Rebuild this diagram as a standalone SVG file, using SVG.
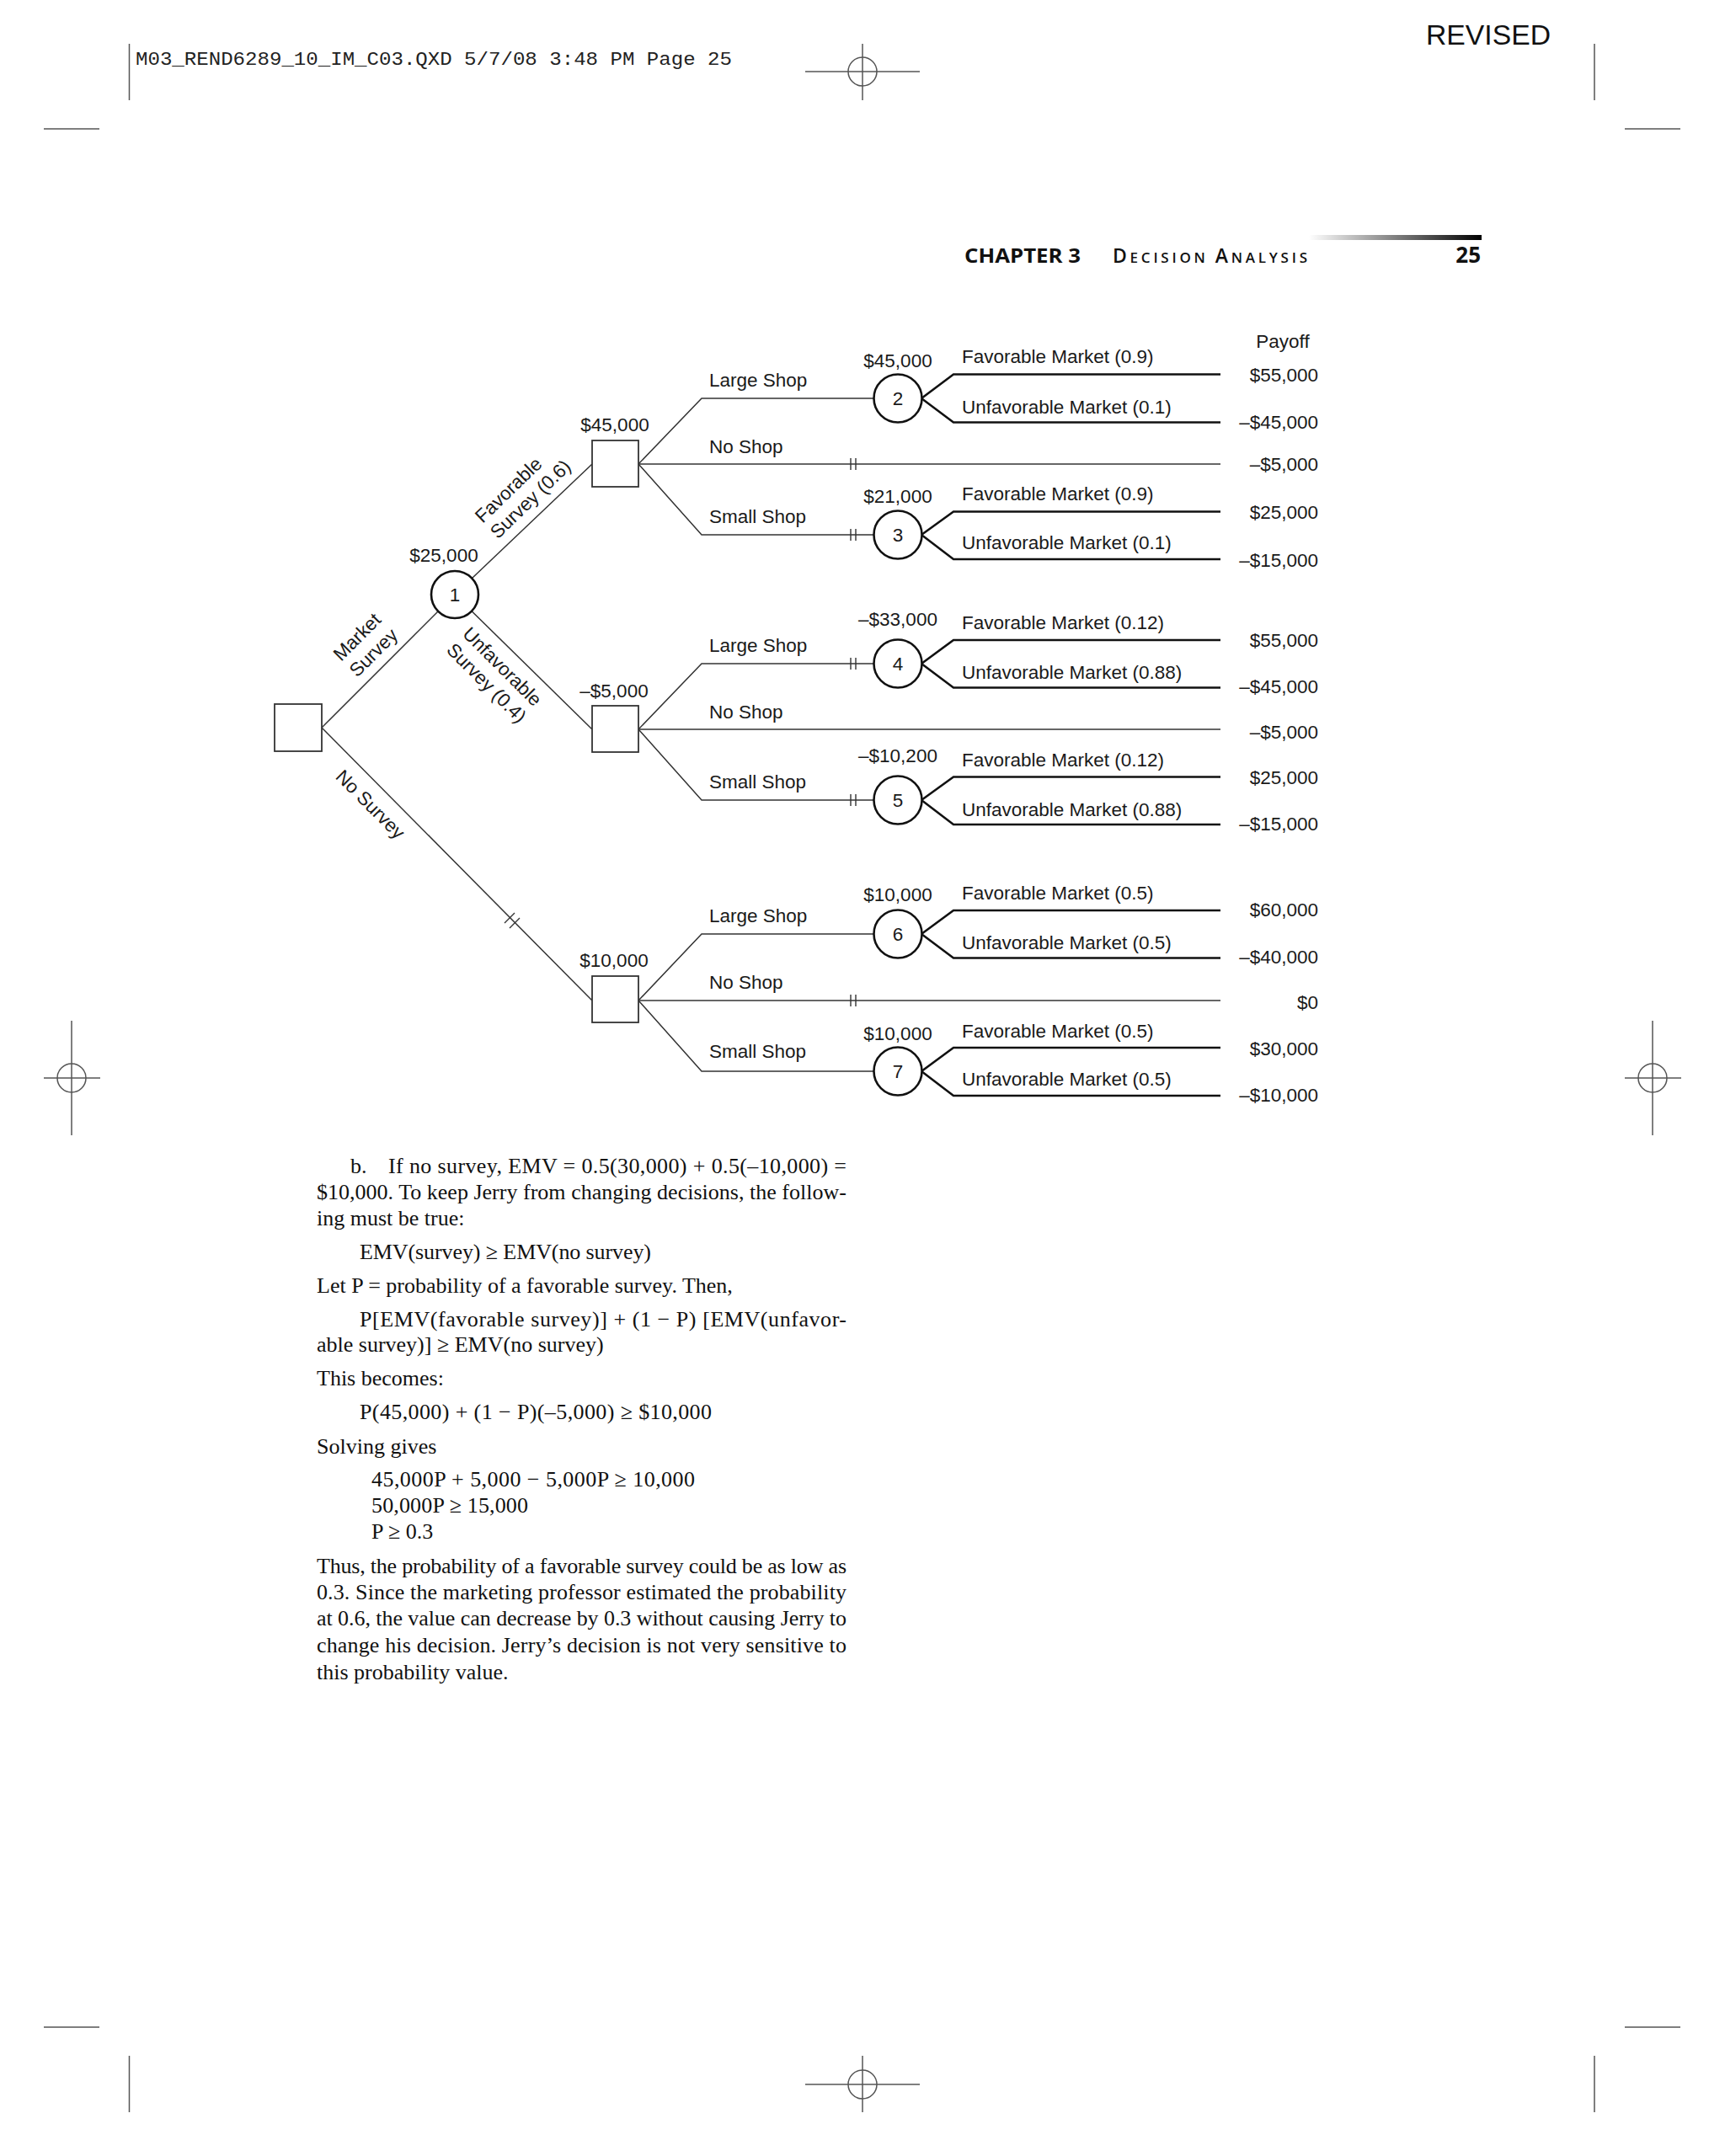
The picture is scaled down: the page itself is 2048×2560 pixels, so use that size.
<svg xmlns="http://www.w3.org/2000/svg" width="2048" height="2560" viewBox="0 0 2048 2560">
<defs>
<style>
.t{font-family:"Liberation Sans",Arial,Helvetica,sans-serif;font-size:22.5px;fill:#1a1a1a}
.m{text-anchor:middle}
.e{text-anchor:end}
.ln{stroke:#333;stroke-width:1.5;fill:none}
.pl{stroke:#111;stroke-width:2.6;fill:none}
.tk{stroke:#333;stroke-width:1.4;fill:none}
.sq{fill:#fff;stroke:#333;stroke-width:1.8}
.ch{fill:#fff;stroke:#111;stroke-width:2.6}
.b{font-family:"Liberation Serif","Times New Roman",serif;font-size:26px;fill:#111}
.cm{stroke:#555;stroke-width:1.5;fill:none}
</style>
<linearGradient id="bar" x1="0" y1="0" x2="1" y2="0">
<stop offset="0" stop-color="#fff"/>
<stop offset="1" stop-color="#000"/>
</linearGradient>
</defs>
<rect width="2048" height="2560" fill="#fff"/>

<!-- page furniture -->
<g id="page-marks">
<text x="161" y="77" font-family="'Liberation Mono','Courier New',monospace" font-size="22" fill="#222" textLength="708" lengthAdjust="spacingAndGlyphs">M03_REND6289_10_IM_C03.QXD  5/7/08  3:48 PM  Page 25</text>
<text x="1693" y="53" font-family="'Liberation Sans',Arial,sans-serif" font-size="33" fill="#111" textLength="148" lengthAdjust="spacingAndGlyphs">REVISED</text>
<line class="cm" x1="153.5" y1="52" x2="153.5" y2="119"/>
<line class="cm" x1="1893" y1="52" x2="1893" y2="119"/>
<line class="cm" x1="52" y1="153" x2="118" y2="153"/>
<line class="cm" x1="1929" y1="153" x2="1995" y2="153"/>
<line class="cm" x1="52" y1="2407" x2="118" y2="2407"/>
<line class="cm" x1="1929" y1="2407" x2="1995" y2="2407"/>
<line class="cm" x1="153.5" y1="2441" x2="153.5" y2="2508"/>
<line class="cm" x1="1893" y1="2441" x2="1893" y2="2508"/>
<g class="cm">
<circle cx="1024" cy="85" r="17"/><line x1="956" y1="85" x2="1092" y2="85"/><line x1="1024" y1="52" x2="1024" y2="119"/>
<circle cx="1024" cy="2475" r="17"/><line x1="956" y1="2475" x2="1092" y2="2475"/><line x1="1024" y1="2441" x2="1024" y2="2508"/>
<circle cx="85" cy="1280" r="17"/><line x1="52" y1="1280" x2="119" y2="1280"/><line x1="85" y1="1212" x2="85" y2="1348"/>
<circle cx="1962" cy="1280" r="17"/><line x1="1929" y1="1280" x2="1996" y2="1280"/><line x1="1962" y1="1212" x2="1962" y2="1348"/>
</g>
<rect x="1554" y="279" width="205" height="6" fill="url(#bar)"/>
<text x="1145" y="312" font-family="'Open Sans','Liberation Sans',sans-serif" font-weight="bold" font-size="23" fill="#111" textLength="138" lengthAdjust="spacingAndGlyphs">CHAPTER 3</text>
<text x="1321" y="312" font-family="'Open Sans','Liberation Sans',sans-serif" font-weight="600" font-size="17" fill="#111" textLength="231" lengthAdjust="spacing"><tspan font-size="23">D</tspan>ECISION <tspan font-size="23">A</tspan>NALYSIS</text>
<text x="1758" y="312" text-anchor="end" font-family="'Open Sans','Liberation Sans',sans-serif" font-weight="bold" font-size="26" fill="#111">25</text>
</g>

<!-- connectors -->
<g id="connectors">
<path class="ln" d="M382,864 L540,706"/>
<path class="ln" d="M382,864 L703,1188"/>
<path class="ln" d="M540,706 L703,551"/>
<path class="ln" d="M540,706 L703,866"/>
<!-- favorable decision -->
<path class="ln" d="M758,551 L833,473 L1038,473"/>
<path class="ln" d="M758,551 L1449,551"/>
<path class="ln" d="M758,551 L833,635 L1038,635"/>
<!-- unfavorable decision -->
<path class="ln" d="M758,866 L833,788 L1038,788"/>
<path class="ln" d="M758,866 L1449,866"/>
<path class="ln" d="M758,866 L833,950 L1038,950"/>
<!-- no survey decision -->
<path class="ln" d="M758,1188 L833,1109 L1038,1109"/>
<path class="ln" d="M758,1188 L1449,1188"/>
<path class="ln" d="M758,1188 L833,1272 L1038,1272"/>
<!-- chance branches -->
<path class="pl" d="M1094,473 L1132,444.5 L1449,444.5 M1094,473 L1132,501.5 L1449,501.5"/>
<path class="pl" d="M1094,635 L1132,607.5 L1449,607.5 M1094,635 L1132,664 L1449,664"/>
<path class="pl" d="M1094,788 L1132,760 L1449,760 M1094,788 L1132,816.5 L1449,816.5"/>
<path class="pl" d="M1094,950 L1132,922.5 L1449,922.5 M1094,950 L1132,979 L1449,979"/>
<path class="pl" d="M1094,1109 L1132,1081 L1449,1081 M1094,1109 L1132,1137.5 L1449,1137.5"/>
<path class="pl" d="M1094,1272 L1132,1244 L1449,1244 M1094,1272 L1132,1301 L1449,1301"/>
<!-- pruning ticks -->
<path class="tk" d="M1010,544 V558 M1016,544 V558"/>
<path class="tk" d="M1010,628 V642 M1016,628 V642"/>
<path class="tk" d="M1010,781 V795 M1016,781 V795"/>
<path class="tk" d="M1010,943 V957 M1016,943 V957"/>
<path class="tk" d="M1010,1181 V1195 M1016,1181 V1195"/>
<path class="tk" d="M599,1096 L611,1084 M605,1102 L617,1090"/>
</g>

<!-- nodes -->
<g id="d0"><rect class="sq" x="326" y="836" width="56" height="56"/></g>
<g id="n1"><circle class="ch" cx="540" cy="706" r="28"/><text class="t m" x="540" y="714">1</text><text class="t m" x="527" y="667">$25,000</text></g>
<g id="d-fav"><rect class="sq" x="703" y="523" width="55" height="55"/><text class="t m" x="730" y="512">$45,000</text></g>
<g id="d-unfav"><rect class="sq" x="703" y="838" width="55" height="55"/><text class="t m" x="729" y="828">–$5,000</text></g>
<g id="d-nosurvey"><rect class="sq" x="703" y="1159" width="55" height="55"/><text class="t m" x="729" y="1148">$10,000</text></g>

<g id="n2"><circle class="ch" cx="1066" cy="473" r="28.5"/><text class="t m" x="1066" y="481">2</text><text class="t m" x="1066" y="436">$45,000</text></g>
<g id="n3"><circle class="ch" cx="1066" cy="635" r="28.5"/><text class="t m" x="1066" y="643">3</text><text class="t m" x="1066" y="597">$21,000</text></g>
<g id="n4"><circle class="ch" cx="1066" cy="788" r="28.5"/><text class="t m" x="1066" y="796">4</text><text class="t m" x="1066" y="743">–$33,000</text></g>
<g id="n5"><circle class="ch" cx="1066" cy="950" r="28.5"/><text class="t m" x="1066" y="958">5</text><text class="t m" x="1066" y="905">–$10,200</text></g>
<g id="n6"><circle class="ch" cx="1066" cy="1109" r="28.5"/><text class="t m" x="1066" y="1117">6</text><text class="t m" x="1066" y="1070">$10,000</text></g>
<g id="n7"><circle class="ch" cx="1066" cy="1272" r="28.5"/><text class="t m" x="1066" y="1280">7</text><text class="t m" x="1066" y="1235">$10,000</text></g>

<!-- branch labels -->
<g id="labels" class="t">
<g transform="translate(405,786) rotate(-45)"><text x="0" y="0">Market</text><text x="0" y="27">Survey</text></g>
<g transform="translate(573,622) rotate(-44)"><text x="0" y="0">Favorable</text><text x="0" y="26">Survey (0.6)</text></g>
<g transform="translate(548,754) rotate(45)"><text x="0" y="0">Unfavorable</text><text x="0" y="27">Survey (0.4)</text></g>
<g transform="translate(440,955) rotate(45)"><text class="m" x="0" y="8">No Survey</text></g>

<text x="842" y="459">Large Shop</text>
<text x="842" y="538">No Shop</text>
<text x="842" y="621">Small Shop</text>
<text x="842" y="774">Large Shop</text>
<text x="842" y="853">No Shop</text>
<text x="842" y="936">Small Shop</text>
<text x="842" y="1095">Large Shop</text>
<text x="842" y="1174">No Shop</text>
<text x="842" y="1256">Small Shop</text>

<text x="1142" y="431">Favorable Market (0.9)</text>
<text x="1142" y="491">Unfavorable Market (0.1)</text>
<text x="1142" y="594">Favorable Market (0.9)</text>
<text x="1142" y="652">Unfavorable Market (0.1)</text>
<text x="1142" y="747">Favorable Market (0.12)</text>
<text x="1142" y="806">Unfavorable Market (0.88)</text>
<text x="1142" y="910">Favorable Market (0.12)</text>
<text x="1142" y="969">Unfavorable Market (0.88)</text>
<text x="1142" y="1068">Favorable Market (0.5)</text>
<text x="1142" y="1127">Unfavorable Market (0.5)</text>
<text x="1142" y="1232">Favorable Market (0.5)</text>
<text x="1142" y="1289">Unfavorable Market (0.5)</text>

<text class="m" x="1523" y="413">Payoff</text>
<text class="e" x="1565" y="453">$55,000</text>
<text class="e" x="1565" y="509">–$45,000</text>
<text class="e" x="1565" y="559">–$5,000</text>
<text class="e" x="1565" y="616">$25,000</text>
<text class="e" x="1565" y="673">–$15,000</text>
<text class="e" x="1565" y="768">$55,000</text>
<text class="e" x="1565" y="823">–$45,000</text>
<text class="e" x="1565" y="877">–$5,000</text>
<text class="e" x="1565" y="931">$25,000</text>
<text class="e" x="1565" y="986">–$15,000</text>
<text class="e" x="1565" y="1088">$60,000</text>
<text class="e" x="1565" y="1144">–$40,000</text>
<text class="e" x="1565" y="1198">$0</text>
<text class="e" x="1565" y="1253">$30,000</text>
<text class="e" x="1565" y="1308">–$10,000</text>
</g>

<!-- body text -->
<g id="body" class="b">
<text x="416" y="1393">b.</text>
<text x="461" y="1393" textLength="544" lengthAdjust="spacing">If no survey, EMV = 0.5(30,000) + 0.5(–10,000) =</text>
<text x="376" y="1424" textLength="629" lengthAdjust="spacing">$10,000. To keep Jerry from changing decisions, the follow-</text>
<text x="376" y="1455">ing must be true:</text>
<text x="427" y="1495" textLength="346" lengthAdjust="spacing">EMV(survey) ≥ EMV(no survey)</text>
<text x="376" y="1535">Let P = probability of a favorable survey. Then,</text>
<text x="427" y="1575" textLength="578" lengthAdjust="spacing">P[EMV(favorable survey)] + (1 − P) [EMV(unfavor-</text>
<text x="376" y="1605">able survey)] ≥ EMV(no survey)</text>
<text x="376" y="1645">This becomes:</text>
<text x="427" y="1685" textLength="418" lengthAdjust="spacing">P(45,000) + (1 − P)(–5,000) ≥ $10,000</text>
<text x="376" y="1726">Solving gives</text>
<text x="441" y="1765" textLength="384" lengthAdjust="spacing">45,000P + 5,000 − 5,000P ≥ 10,000</text>
<text x="441" y="1796" textLength="186" lengthAdjust="spacing">50,000P ≥ 15,000</text>
<text x="441" y="1827">P ≥ 0.3</text>
<text x="376" y="1868" textLength="629" lengthAdjust="spacing">Thus, the probability of a favorable survey could be as low as</text>
<text x="376" y="1899" textLength="629" lengthAdjust="spacing">0.3. Since the marketing professor estimated the probability</text>
<text x="376" y="1930" textLength="629" lengthAdjust="spacing">at 0.6, the value can decrease by 0.3 without causing Jerry to</text>
<text x="376" y="1962" textLength="629" lengthAdjust="spacing">change his decision. Jerry’s decision is not very sensitive to</text>
<text x="376" y="1994">this probability value.</text>
</g>
</svg>
